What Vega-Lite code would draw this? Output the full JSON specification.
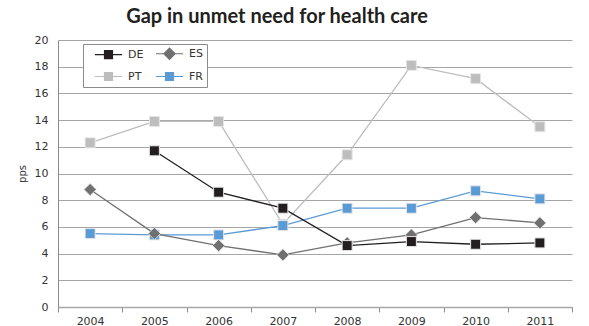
{
  "$schema": "https://vega.github.io/schema/vega-lite/v6.json",
  "width": 514,
  "height": 267,
  "autosize": "none",
  "padding": {"left": 58, "top": 40, "right": 17, "bottom": 19},
  "background": "white",
  "title": {
    "text": "Gap in unmet need for health care",
    "font": "Lato",
    "fontSize": 20,
    "fontWeight": "bold",
    "color": "#231f20",
    "anchor": "middle",
    "dx": -38,
    "offset": 7
  },
  "config": {
    "view": {"stroke": null},
    "axis": {"labelFont": "DejaVu Sans", "labelFontSize": 11, "labelColor": "#333333", "titleFont": "DejaVu Sans", "titleColor": "#333333"}
  },
  "data": {
    "values": [
      {"year": "2004", "country": "PT", "value": 12.3},
      {"year": "2005", "country": "PT", "value": 13.9},
      {"year": "2006", "country": "PT", "value": 13.9},
      {"year": "2007", "country": "PT", "value": 6.2},
      {"year": "2008", "country": "PT", "value": 11.4},
      {"year": "2009", "country": "PT", "value": 18.1},
      {"year": "2010", "country": "PT", "value": 17.1},
      {"year": "2011", "country": "PT", "value": 13.5},
      {"year": "2004", "country": "FR", "value": 5.5},
      {"year": "2005", "country": "FR", "value": 5.4},
      {"year": "2006", "country": "FR", "value": 5.4},
      {"year": "2007", "country": "FR", "value": 6.1},
      {"year": "2008", "country": "FR", "value": 7.4},
      {"year": "2009", "country": "FR", "value": 7.4},
      {"year": "2010", "country": "FR", "value": 8.7},
      {"year": "2011", "country": "FR", "value": 8.1},
      {"year": "2004", "country": "ES", "value": 8.8},
      {"year": "2005", "country": "ES", "value": 5.5},
      {"year": "2006", "country": "ES", "value": 4.6},
      {"year": "2007", "country": "ES", "value": 3.9},
      {"year": "2008", "country": "ES", "value": 4.8},
      {"year": "2009", "country": "ES", "value": 5.4},
      {"year": "2010", "country": "ES", "value": 6.7},
      {"year": "2011", "country": "ES", "value": 6.3},
      {"year": "2005", "country": "DE", "value": 11.7},
      {"year": "2006", "country": "DE", "value": 8.6},
      {"year": "2007", "country": "DE", "value": 7.4},
      {"year": "2008", "country": "DE", "value": 4.6},
      {"year": "2009", "country": "DE", "value": 4.9},
      {"year": "2010", "country": "DE", "value": 4.7},
      {"year": "2011", "country": "DE", "value": 4.8}
    ]
  },
  "encoding": {
    "x": {
      "field": "year", "type": "ordinal",
      "scale": {"type": "band", "paddingInner": 0, "paddingOuter": 0},
      "axis": {"title": null, "labelAngle": 0, "tickBand": "extent", "tickSize": 5, "tickColor": "#8c8c8c", "domainColor": "#a6a6a6", "domainWidth": 1.5, "labelPadding": 3, "grid": false}
    },
    "y": {
      "field": "value", "type": "quantitative",
      "scale": {"domain": [0, 20]},
      "axis": {"title": "pps", "titleFontSize": 10, "titleFontWeight": "normal", "titlePadding": 7, "values": [0,2,4,6,8,10,12,14,16,18,20], "ticks": false, "labelPadding": 10, "gridColor": "#a6a6a6", "gridWidth": 1.2, "domainColor": "#8c8c8c"}
    },
    "color": {
      "field": "country", "type": "nominal",
      "scale": {"domain": ["DE", "ES", "PT", "FR"], "range": ["#231f20", "#707070", "#bdbdbd", "#5b9bd5"]},
      "legend": {
        "title": null,
        "orient": "none",
        "direction": "horizontal",
        "legendX": 25,
        "legendY": 4,
        "columns": 2,
        "columnPadding": 4,
        "rowPadding": 8,
        "padding": 4,
        "strokeColor": "#8c8c8c",
        "fillColor": "white",
        "symbolSize": 64,
        "symbolOffset": 16,
        "labelOffset": 14,
        "labelFont": "DejaVu Sans",
        "labelFontSize": 11,
        "labelColor": "#333333",
        "symbolStrokeWidth": 1.2,
        "encode": {
          "symbols": {
            "update": {
              "shape": {"signal": "datum.value === 'ES' ? 'M-3.4,0H3.4M0,-1.4L1.4,0L0,1.4L-1.4,0Z' : 'M-3.4,0H3.4M-1,-1H1V1H-1Z'"},
              "fill": {"signal": "scale('color', datum.value)"},
              "stroke": {"signal": "scale('color', datum.value)"},
              "opacity": {"value": 1},
              "fillOpacity": {"value": 1},
              "strokeOpacity": {"value": 1}
            }
          }
        }
      }
    },
    "detail": {"field": "country"},
    "order": {"field": "year"}
  },
  "layer": [
    {"mark": {"type": "line", "strokeWidth": 1.3}, "transform": [{"filter": "datum.country === 'PT'"}]},
    {"mark": {"type": "point", "shape": "square", "filled": true, "size": 100, "opacity": 1, "stroke": "#e6e6e6", "strokeWidth": 1}, "transform": [{"filter": "datum.country === 'PT'"}]},
    {"mark": {"type": "line", "strokeWidth": 1.3}, "transform": [{"filter": "datum.country === 'FR'"}]},
    {"mark": {"type": "point", "shape": "square", "filled": true, "size": 100, "opacity": 1, "stroke": "#e6e6e6", "strokeWidth": 1}, "transform": [{"filter": "datum.country === 'FR'"}]},
    {"mark": {"type": "line", "strokeWidth": 1.3}, "transform": [{"filter": "datum.country === 'ES'"}]},
    {"mark": {"type": "point", "shape": "diamond", "filled": true, "size": 150, "opacity": 1, "stroke": "#e6e6e6", "strokeWidth": 0.8}, "transform": [{"filter": "datum.country === 'ES'"}]},
    {"mark": {"type": "line", "strokeWidth": 1.3}, "transform": [{"filter": "datum.country === 'DE'"}]},
    {"mark": {"type": "point", "shape": "square", "filled": true, "size": 100, "opacity": 1, "stroke": "#e6e6e6", "strokeWidth": 1}, "transform": [{"filter": "datum.country === 'DE'"}]}
  ]
}
